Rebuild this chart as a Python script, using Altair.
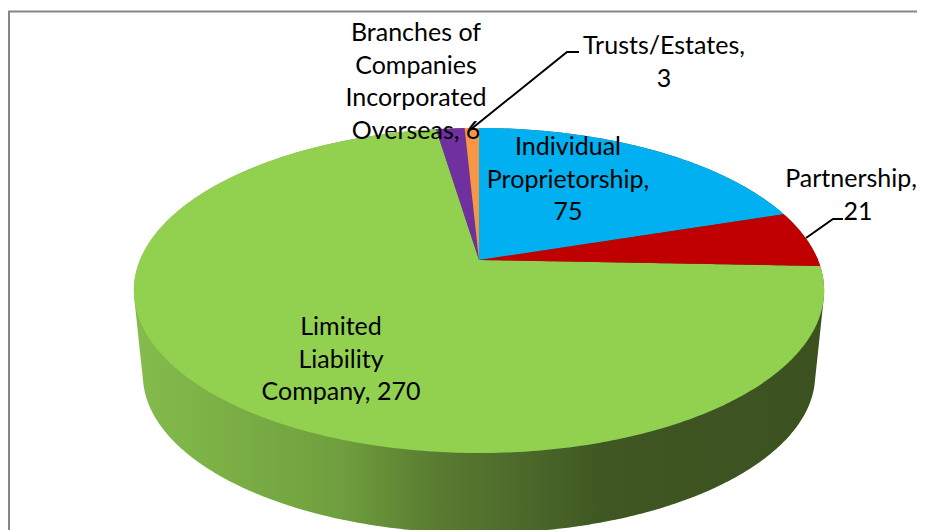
import math
import numpy as np
import pandas as pd
import altair as alt

# ---- data ----
categories = ["Individual Proprietorship", "Partnership", "Limited Liability Company",
              "Branches of Companies Incorporated Overseas", "Trusts/Estates"]
values = [75, 21, 270, 6, 3]
colors = ["#00B0F0", "#C00000", "#92D050", "#7030A0", "#F79646"]
label_lines = [["Individual", "Proprietorship,"], ["Partnership,"], ["Limited", "Liability", "Company,"],
               ["Branches of", "Companies", "Incorporated", "Overseas,"], ["Trusts/Estates,"]]
label_breaks_value = [True, True, False, False, True]

# ---- layout (page pixels) ----
CX, CY = 479.0, 260.0
AX, BY, K = 339.0, 156.8, 0.1877
TOP_MID_Y, BOT_MID_Y, BOT_SCALE = 290.5, 375.0, 0.974
FONT, FSIZE, LH = "Lato", 25, 32.7
label_pos = [(568, 147), (851, 179), (341, 327), (416, 33), (664, 46)]
leaders = [[(470, 130), (567, 52), (579, 52)], [(806, 238), (833, 219), (843, 219)]]
W, H = 909, 522

xs = alt.Scale(domain=[8, 8 + W], range=[0, W])
ys = alt.Scale(domain=[8, 8 + H], range=[0, H])


def project(deg):
    t = np.radians(np.asarray(deg, dtype=float))
    u, v = np.sin(t), np.cos(t)
    d = 1 + K * v
    return CX + AX * u / d, CY - BY * v / d


def spans(px, py):
    """Convex polygon -> rows of x, upper y, lower y for an area mark."""
    px, py = np.asarray(px), np.asarray(py)
    qx, qy = np.roll(px, -1), np.roll(py, -1)
    rows = []
    for x in np.unique(np.round(px, 3)):
        hit = []
        for a, b, c, e in zip(px, py, qx, qy):
            lo, hi = min(a, c) - 1e-3, max(a, c) + 1e-3
            if lo <= x <= hi:
                if abs(c - a) < 1e-9:
                    hit += [b, e]
                else:
                    s = min(1, max(0, (x - a) / (c - a)))
                    hit.append(b + s * (e - b))
        if hit:
            rows.append({"x": float(x), "y": float(min(hit)), "y2": float(max(hit))})
    return pd.DataFrame(rows)


def hull(points):
    pts = sorted(set(points))
    def half(seq):
        out = []
        for p in seq:
            while len(out) > 1 and (out[-1][0]-out[-2][0])*(p[1]-out[-2][1]) - (out[-1][1]-out[-2][1])*(p[0]-out[-2][0]) <= 0:
                out.pop()
            out.append(p)
        return out[:-1]
    return half(pts) + half(pts[::-1])


def encode_area(ch):
    return ch.encode(x=alt.X("x:Q", scale=xs, axis=None),
                     y=alt.Y("y:Q", scale=ys, axis=None), y2="y2:Q")


# side wall
circle = np.arange(0, 360, 1.0)
tx, ty = project(circle)
bx = CX + (tx - CX) * BOT_SCALE
by = BOT_MID_Y + (ty - TOP_MID_Y) * BOT_SCALE
h = hull([(round(float(a), 3), round(float(b), 3)) for a, b in zip(np.r_[tx, bx], np.r_[ty, by])])
side_df = spans([p[0] for p in h], [p[1] for p in h])
side_fill = alt.Gradient(gradient="linear", x1=0, x2=1, y1=0, y2=0, stops=[
    alt.GradientStop(color="#84BC4C", offset=0.0),
    alt.GradientStop(color="#6F9F3E", offset=0.30),
    alt.GradientStop(color="#5C7F32", offset=0.42),
    alt.GradientStop(color="#3F5723", offset=0.68),
    alt.GradientStop(color="#3C5120", offset=1.0)])
layers = [encode_area(alt.Chart(side_df).mark_area(color=side_fill, interpolate="linear"))]

# slices of the top face
total = sum(values)
edges = np.cumsum([0] + values) / total * 360.0
slices = []
for i, (c, v) in enumerate(zip(colors, values)):
    start, end = edges[i], edges[i + 1]
    cuts = [start] + [a for a in (90, 180, 270) if start < a < end] + [end]
    for a0, a1 in zip(cuts[:-1], cuts[1:]):
        lo = a0 - 1.0 if a0 != start else a0   # overlap pieces of one slice, no seams
        arc = np.linspace(lo, a1, max(3, int((a1 - lo) * 1.5)))
        ax, ay = project(arc)
        slices.append((v, c, spans(np.r_[CX, ax], np.r_[CY, ay])))
slices.sort(key=lambda s: -s[0])
for v, c, df in slices:
    layers.append(encode_area(alt.Chart(df).mark_area(color=c, interpolate="linear")))

# frame
frame_color = "#868686"
layers.append(alt.Chart(pd.DataFrame({"a": [0]})).mark_rule(color=frame_color, strokeWidth=2).encode(
    x=alt.value(1), y=alt.value(3), y2=alt.value(H)))
layers.append(alt.Chart(pd.DataFrame({"a": [0]})).mark_rule(color=frame_color, strokeWidth=2).encode(
    x=alt.value(0), x2=alt.value(W), y=alt.value(3.5)))

# leader lines
for pts in leaders:
    df = pd.DataFrame({"x": [p[0] for p in pts], "y": [p[1] for p in pts], "o": range(len(pts))})
    layers.append(alt.Chart(df).mark_line(color="#000000", strokeWidth=2).encode(
        x=alt.X("x:Q", scale=xs, axis=None), y=alt.Y("y:Q", scale=ys, axis=None), order="o:O"))

# labels
rows = []
for lines, val, brk, (lx, ly) in zip(label_lines, values, label_breaks_value, label_pos):
    txt = list(lines)
    if brk:
        txt.append(str(val))
    else:
        txt[-1] = f"{txt[-1]} {val}"
    for j, t in enumerate(txt):
        rows.append({"t": t, "x": 858 if t == str(values[1]) else lx, "y": ly + j * LH})
layers.append(alt.Chart(pd.DataFrame(rows)).mark_text(
    font=FONT, fontSize=FSIZE, color="#000000", align="center", baseline="middle").encode(
    x=alt.X("x:Q", scale=xs, axis=None), y=alt.Y("y:Q", scale=ys, axis=None), text="t:N"))

chart = alt.layer(*layers).properties(
    width=W, height=H, padding=0, autosize=alt.AutoSizeParams(type="none"), background="#FFFFFF"
).configure_view(stroke=None)
chart.save("out.html", embed_options={"renderer": "svg", "actions": False})
